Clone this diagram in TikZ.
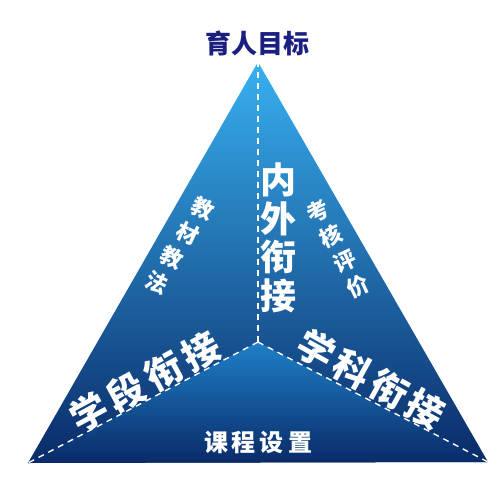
\documentclass[tikz,border=0pt]{standalone}
\usepackage{fontspec}
\newfontfamily\cjk{Noto Sans CJK SC}
\definecolor{navy}{HTML}{1A1F80}
\definecolor{topblue}{HTML}{38B0F0}
\definecolor{midblue}{HTML}{1A7CC8}
\definecolor{deepblue}{HTML}{0A2A68}
\definecolor{facetop}{HTML}{1E80C8}
\definecolor{facemid}{HTML}{12569C}
\tikzset{
  x=1pt,y=1pt,
  dashline/.style={draw=white,line width=1.4pt,dash pattern=on 6pt off 5pt},
  wtxt/.style={text=white,font=\cjk\bfseries,inner sep=0pt},
  edgechar/.style={wtxt,font=\cjk\bfseries\fontsize{22}{24}\selectfont},
  bigchar/.style={wtxt,font=\cjk\bfseries\fontsize{37}{40}\selectfont},
}
\begin{document}
\begin{tikzpicture}
\useasboundingbox (0,0) rectangle (500,480);
\fill[white] (0,0) rectangle (500,480);
\coordinate (A) at (258,418);
\coordinate (L) at (28,17);
\coordinate (R) at (488,18);
\coordinate (C) at (258,138);
\shade[top color=topblue,middle color=midblue,bottom color=deepblue] (A) -- (R) -- (L) -- cycle;
\shade[top color=facetop,middle color=facemid,bottom color=deepblue] (C) -- (R) -- (L) -- cycle;
\draw[dashline] (C) -- (A);
\draw[dashline] (C) -- (L);
\draw[dashline] (C) -- (R);
% title
\node[text=navy,font=\cjk\bfseries\fontsize{26}{30}\selectfont,inner sep=0pt] (title) at (257,437) {育人目标};
% centre vertical
\node[wtxt,align=center,font=\cjk\bfseries\fontsize{36}{38.5}\selectfont] (inner) at (278,242) {内\\外\\衔\\接};
% left edge
\node[edgechar,rotate=-25] (l1) at (203,271) {教};
\node[edgechar,rotate=-25] (l2) at (188,246) {材};
\node[edgechar,rotate=-25] (l3) at (172,222) {教};
\node[edgechar,rotate=-25] (l4) at (157,197) {法};
% right edge
\node[edgechar,rotate=25] (r1) at (318,269) {考};
\node[edgechar,rotate=25] (r2) at (331,244) {核};
\node[edgechar,rotate=25] (r3) at (345,219) {评};
\node[edgechar,rotate=25] (r4) at (358,194) {价};
% lower left labels
\node[bigchar,rotate=28.5] (s1) at (89,68) {学};
\node[bigchar,rotate=28.5] (s2) at (126,88) {段};
\node[bigchar,rotate=28.5] (s3) at (164,109) {衔};
\node[bigchar,rotate=28.5] (s4) at (201,129) {接};
% lower right labels
\node[bigchar,rotate=-29] (k1) at (317,131) {学};
\node[bigchar,rotate=-29] (k2) at (353,111) {科};
\node[bigchar,rotate=-29] (k3) at (389,91) {衔};
\node[bigchar,rotate=-29] (k4) at (425,71) {接};
\node[wtxt,font=\cjk\bfseries\fontsize{24}{28}\selectfont] (course) at (258,38) {课\hspace{4pt}程\hspace{4pt}设\hspace{4pt}置};
\end{tikzpicture}
\end{document}
